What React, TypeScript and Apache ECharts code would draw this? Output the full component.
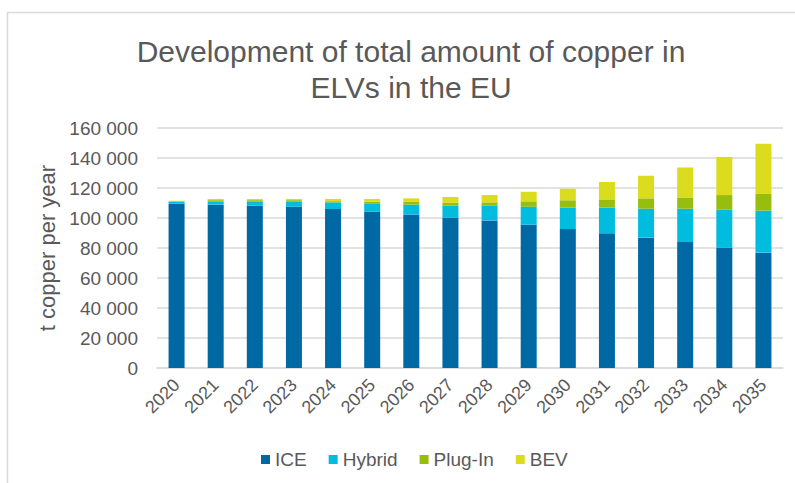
import React, { useEffect, useRef } from "react";
import * as echarts from "echarts";

const years = ["2020","2021","2022","2023","2024","2025","2026","2027","2028","2029","2030","2031","2032","2033","2034","2035"];
const iceValues = [109500,108900,108200,107500,106000,104400,102400,100400,98400,95500,92600,89800,86900,84000,80400,76900];
const hybridValues = [1300,2200,2900,3600,4400,5400,6500,7800,10000,12000,14300,17100,19300,22200,25100,28000];
const plugInValues = [400,800,800,800,800,1100,2000,2000,2000,3600,4900,5500,6900,7500,9800,11100];
const bevValues = [300,800,800,800,1500,1800,2200,3800,4900,6400,7700,11600,15100,20000,25400,33500];
const seriesNames = ["ICE", "Hybrid", "Plug-In", "BEV"];
const seriesColors = ["#0068A3", "#00BDE0", "#97BE0D", "#DCDC1E"];

const titleText = "Development of total amount of copper in\nELVs in the EU";
const yAxisName = "t copper per year";

const fmt = (v: number) => String(v).replace(/\B(?=(\d{3})+(?!\d))/g, " ");

export default function App() {
  const ref = useRef<HTMLDivElement>(null);
  useEffect(() => {
    if (!ref.current) return;
    const chart = echarts.init(ref.current, null, { renderer: "svg" });
    const dataSets = [iceValues, hybridValues, plugInValues, bevValues];
    const font = "'Liberation Sans', Arial, sans-serif";
    chart.setOption({
      animation: false,
      textStyle: { fontFamily: font },
      title: {
        text: titleText,
        left: 406,
        top: 28,
        textAlign: "center",
        textStyle: { fontFamily: font, fontSize: 30, fontWeight: "normal", color: "#595959", lineHeight: 36 },
      },
      graphic: [
        {
          type: "rect",
          shape: { x: 7.5, y: 12.5, width: 900, height: 600 },
          style: { fill: "none", stroke: "#D9D9D9", lineWidth: 1.5 },
          silent: true,
        },
      ],
      legend: {
        data: seriesNames,
        left: 261,
        top: 450,
        padding: 0,
        itemWidth: 9,
        itemHeight: 9,
        itemGap: 22,
        icon: "rect",
        textStyle: { fontFamily: font, fontSize: 19, color: "#595959" },
      },
      grid: { left: 157, right: 12, top: 128, bottom: 115, containLabel: false },
      xAxis: {
        type: "category",
        data: years,
        axisLine: { show: true, lineStyle: { color: "#D9D9D9", width: 1.5 } },
        axisTick: { show: false },
        axisLabel: { rotate: 45, fontSize: 18, color: "#595959", margin: 14, fontFamily: font, interval: 0 },
      },
      yAxis: {
        type: "value",
        min: 0,
        max: 160000,
        interval: 20000,
        name: yAxisName,
        nameLocation: "middle",
        nameGap: 88,
        nameTextStyle: { fontFamily: font, fontSize: 22, color: "#595959" },
        axisLine: { show: false },
        axisTick: { show: false },
        axisLabel: { fontSize: 19, color: "#595959", margin: 19, fontFamily: font, formatter: (v: number) => fmt(v) },
        splitLine: { lineStyle: { color: "#D9D9D9", width: 1.5 } },
      },
      series: seriesNames.map((name, i) => ({
        name,
        type: "bar",
        stack: "total",
        barWidth: 16,
        data: dataSets[i],
        itemStyle: { color: seriesColors[i] },
      })),
    });
    return () => chart.dispose();
  }, []);
  return (
    <div
      ref={ref}
      style={{ position: "fixed", left: 0, top: 0, width: 795, height: 483, background: "#fff" }}
    />
  );
}
